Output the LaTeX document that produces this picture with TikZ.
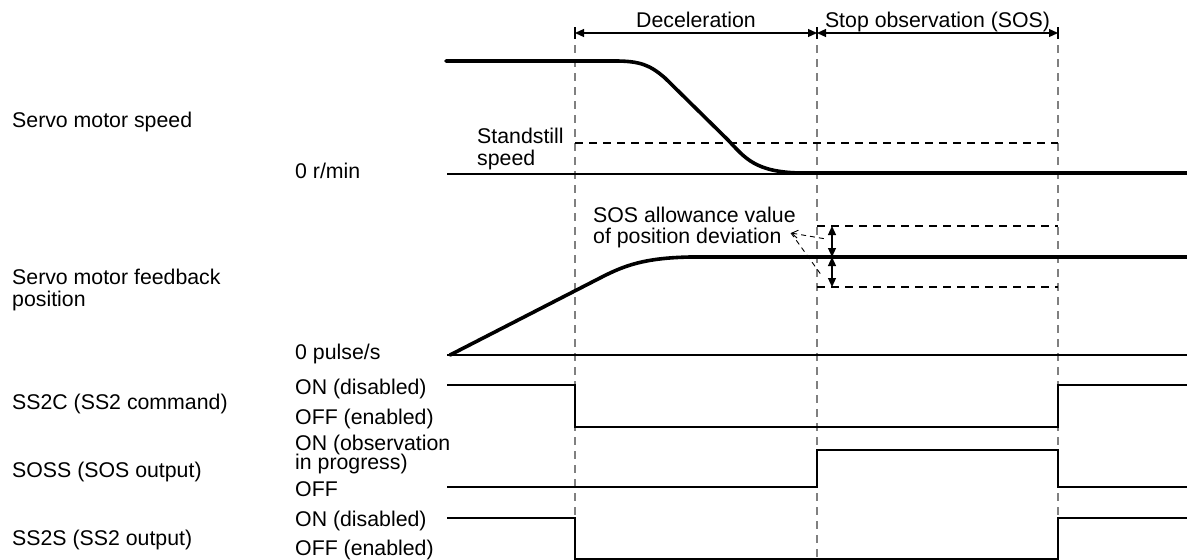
\documentclass[tikz,border=0pt]{standalone}
\usepackage{fontspec}
\setmainfont{Liberation Sans}
\usetikzlibrary{arrows.meta}
\begin{document}
\begin{tikzpicture}[x=1pt,y=-1pt,
  lbl/.style={anchor=base west,inner sep=0pt,font=\fontsize{21.3}{21}\selectfont},
  clbl/.style={anchor=base,inner sep=0pt,font=\fontsize{21.3}{21}\selectfont},
  thick curve/.style={line width=3.6pt,line cap=round,line join=round},
  sig/.style={line width=1.4pt},
  guide/.style={line width=1.4pt,draw=black!50,dash pattern=on 8pt off 6pt},
  blackdash/.style={line width=1.2pt,dash pattern=on 8pt off 6pt},
  leader/.style={line width=0.9pt,dash pattern=on 5pt off 4pt},
  dim/.style={line width=1.2pt,{Triangle[length=9pt,width=8pt]}-{Triangle[length=9pt,width=8pt]}}]
\useasboundingbox (0,0) rectangle (1187,560);

% key x positions
\coordinate (xa) at (575,0);
\coordinate (xb) at (817,0);
\coordinate (xc) at (1058,0);

% guide lines
\foreach \x in {575,817,1058}{
  \draw[guide] (\x,45) -- (\x,560);
  \draw[line width=1.2pt] (\x,27) -- (\x,39);
}

% top dimension arrows
\coordinate (da) at (575,33);
\coordinate (db) at (817,33);
\coordinate (dc) at (1058,33);
\draw[dim] (da) -- (db);
\draw[dim] (db) -- (dc);
\node[clbl] (dec) at (696,27) {Deceleration};
\node[clbl] (sos) at (937.5,27) {Stop observation (SOS)};

% ----- servo motor speed
\node[lbl] (l1) at (12,127) {Servo motor speed};
\node[lbl] (z1) at (295,178) {0 r/min};
\node[lbl] (ss1) at (477,143) {Standstill};
\node[lbl] (ss2) at (477,165) {speed};
\draw[sig] (447,174) -- (1187,174);
\draw[blackdash] (575,143) -- (1058,143);
\draw[thick curve] (446,61) -- (615,61) .. controls (640,61) and (650,65) .. (665,78)
  -- (728,140) .. controls (745,158) and (755,172) .. (800,173) -- (1187,173);

% ----- feedback position
\node[lbl] (l2a) at (12,284) {Servo motor feedback};
\node[lbl] (l2b) at (12,306) {position};
\node[lbl] (z2) at (295,359) {0 pulse/s};
\draw[sig] (447,355) -- (1187,355);
\draw[blackdash] (817,226) -- (1058,226);
\draw[blackdash] (817,287) -- (1058,287);
\draw[thick curve] (450,355) -- (600,278) .. controls (625,265) and (645,258) .. (690,257) -- (1187,257);
\coordinate (pt) at (832,226);
\coordinate (pm) at (832,257);
\coordinate (pb) at (832,287);
\draw[dim] (pt) -- (pm);
\draw[dim] (pm) -- (pb);
\node[lbl] (al1) at (593,222) {SOS allowance value};
\node[lbl] (al2) at (593,243) {of position deviation};
\coordinate (ltip) at (791,233);
\coordinate (lend1) at (826,239);
\coordinate (lend2) at (822,276);
\draw[leader,{Straight Barb[length=6pt,width=8pt]}-] (ltip) -- (lend1);
\draw[leader] (ltip) -- (lend2);

% ----- SS2C
\node[lbl] (l3) at (12,409) {SS2C (SS2 command)};
\node[lbl] (s3a) at (295,394) {ON (disabled)};
\node[lbl] (s3b) at (295,424) {OFF (enabled)};
\draw[sig] (447,385) -- (575,385) -- (575,427) -- (1058,427) -- (1058,385) -- (1187,385);

% ----- SOSS
\node[lbl] (l4) at (12,477) {SOSS (SOS output)};
\node[lbl] (s4a) at (295,450) {ON (observation};
\node[lbl] (s4b) at (295,469) {in progress)};
\node[lbl] (s4c) at (295,496) {OFF};
\draw[sig] (447,487) -- (817,487) -- (817,450) -- (1058,450) -- (1058,487) -- (1187,487);

% ----- SS2S
\node[lbl] (l5) at (12,545) {SS2S (SS2 output)};
\node[lbl] (s5a) at (295,526) {ON (disabled)};
\node[lbl] (s5b) at (295,555) {OFF (enabled)};
\draw[sig] (447,518) -- (575,518) -- (575,559) -- (1058,559) -- (1058,518) -- (1187,518);
\end{tikzpicture}
\end{document}
